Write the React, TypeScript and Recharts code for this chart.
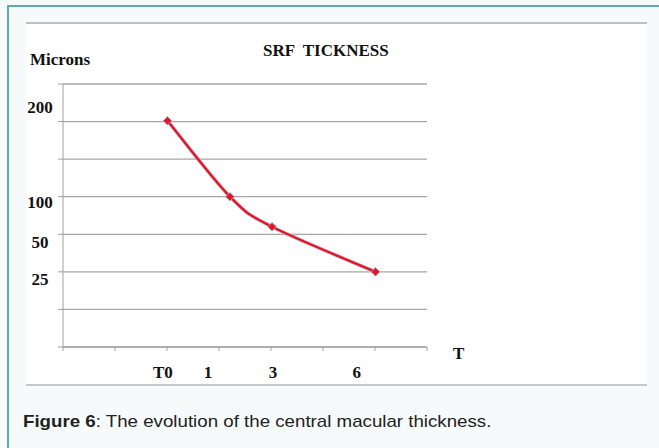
import React from 'react';
import { LineChart, Line, XAxis, YAxis, CartesianGrid, ReferenceLine } from 'recharts';

// Chart plotted in the chart's own grid units (7 x 7 grid)
const categories = ['T0', '1', '3', '6'];
const xPositions = [2.01, 3.21, 4.02, 6.01];
const seriesValues = [6.02, 4.0, 3.2, 2.0];

const gridTicks = [0, 1, 2, 3, 4, 5, 6, 7];
const yTickLabels = ['200', '100', '50', '25'];
const yTickValues = [6.36, 3.83, 2.77, 1.78];
const xTickLabels = ['T0', '1', '3', '6'];
const xTickValues = [1.92, 2.79, 4.04, 5.65];

const data = categories.map((c, i) => ({ name: c, x: xPositions[i], y: seriesValues[i] }));

const serif = '"Liberation Serif", "Times New Roman", serif';

// Excel-like smoothed line (Catmull-Rom converted to Bezier)
const smoothCurve = (context: any) => {
  let pts: number[][] = [];
  return {
    areaStart() {},
    areaEnd() {},
    lineStart() {
      pts = [];
    },
    lineEnd() {
      if (!pts.length) return;
      context.moveTo(pts[0][0], pts[0][1]);
      for (let i = 0; i < pts.length - 1; i++) {
        const p0 = pts[i - 1] || pts[i];
        const p1 = pts[i];
        const p2 = pts[i + 1];
        const p3 = pts[i + 2] || pts[i + 1];
        context.bezierCurveTo(
          p1[0] + (p2[0] - p0[0]) / 6,
          p1[1] + (p2[1] - p0[1]) / 6,
          p2[0] - (p3[0] - p1[0]) / 6,
          p2[1] - (p3[1] - p1[1]) / 6,
          p2[0],
          p2[1]
        );
      }
    },
    point(x: number, y: number) {
      pts.push([+x, +y]);
    },
  };
};

const Diamond = (props: any) => {
  const { cx, cy } = props;
  if (cx == null || cy == null) return null;
  const r = 4.3;
  return (
    <polygon
      points={`${cx},${cy - r} ${cx + r},${cy} ${cx},${cy + r} ${cx - r},${cy}`}
      fill="#e8141f"
      stroke="#8eaade"
      strokeWidth={0.9}
    />
  );
};

const emptyTick = (props: any) => <g key={`t-${props.index}`} />;

const yLabel = (text: string) => (props: any) => {
  const vb = props.viewBox || {};
  return (
    <text x={40} y={vb.y} dy={5} textAnchor="middle" fontFamily={serif} fontWeight="bold" fontSize={17} fill="#111">
      {text}
    </text>
  );
};

const xLabel = (text: string) => (props: any) => {
  const vb = props.viewBox || {};
  return (
    <text x={vb.x} y={(vb.y || 0) + (vb.height || 0)} dy={31} textAnchor="middle" fontFamily={serif} fontWeight="bold" fontSize={17} fill="#111">
      {text}
    </text>
  );
};

export default function App() {
  return (
    <div style={{ position: 'absolute', left: 0, top: 0, width: 659, height: 448, background: '#f7fafa', overflow: 'hidden' }}>
      <div style={{ position: 'absolute', left: 7, top: 5, width: 700, height: 500, borderLeft: '2px solid #63a9a9', borderTop: '2px solid #63a9a9' }} />
      <div style={{ position: 'absolute', left: 26, top: 22, width: 621, height: 360, background: '#ffffff', borderTop: '2px solid #bcc2c2', borderBottom: '2px solid #c4caca' }} />
      <div style={{ position: 'absolute', left: 0, top: 0 }}>
        <LineChart width={659} height={448} data={data} margin={{ top: 84, right: 232, bottom: 71, left: 23 }}>
          <CartesianGrid vertical={false} stroke="#a6a6a6" strokeWidth={1.3} />
          <XAxis dataKey="x" type="number" domain={[0, 7]} ticks={gridTicks} height={30} tick={emptyTick} tickSize={4} stroke="#a0a0a0" interval={0} />
          <YAxis type="number" domain={[0, 7]} ticks={gridTicks} width={40} tick={emptyTick} tickSize={5} stroke="#a0a0a0" interval={0} />
          {yTickValues.map((v, i) => (
            <ReferenceLine key={`yr-${i}`} y={v} stroke="none" label={yLabel(yTickLabels[i])} />
          ))}
          {xTickValues.map((v, i) => (
            <ReferenceLine key={`xr-${i}`} x={v} stroke="none" label={xLabel(xTickLabels[i])} />
          ))}
          <Line type={smoothCurve as any} dataKey="y" stroke="#a8bde6" strokeOpacity={0.75} strokeWidth={4} dot={false} isAnimationActive={false} />
          <Line type={smoothCurve as any} dataKey="y" stroke="#e8141f" strokeWidth={2.4} dot={<Diamond />} isAnimationActive={false} />
        </LineChart>
      </div>
      <div style={{ position: 'absolute', left: 30, top: 50, fontFamily: serif, fontWeight: 'bold', fontSize: 17, color: '#111', whiteSpace: 'nowrap' }}>Microns</div>
      <div style={{ position: 'absolute', left: 263, top: 41, fontFamily: serif, fontWeight: 'bold', fontSize: 17, color: '#111', whiteSpace: 'pre' }}>{'SRF  TICKNESS'}</div>
      <div style={{ position: 'absolute', left: 453, top: 344, fontFamily: serif, fontWeight: 'bold', fontSize: 17, color: '#111' }}>T</div>
      <div style={{ position: 'absolute', left: 23, top: 412, fontFamily: '"Liberation Sans", Arial, sans-serif', fontSize: 17, color: '#222', whiteSpace: 'nowrap', transform: 'scaleX(1.1)', transformOrigin: 'left center' }}>
        <b>Figure 6</b>: The evolution of the central macular thickness.
      </div>
    </div>
  );
}
